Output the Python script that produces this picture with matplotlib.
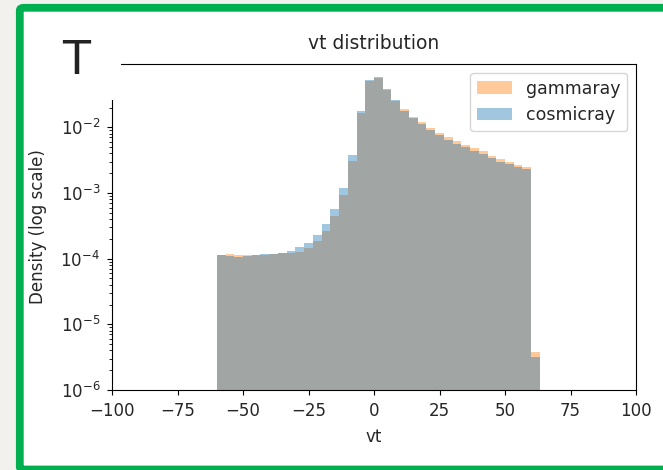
"""vt distribution: gammaray vs cosmicray, log-density histogram (slide crop)."""

import numpy as np
import matplotlib
matplotlib.use("Agg")
import matplotlib.pyplot as plt
from matplotlib.patches import Rectangle, FancyBboxPatch

# bin layout: 37 bins of width 10/3 starting at vt = -60
BIN_LO = -60.0
BIN_W = 10.0 / 3.0
N_BINS = 37

# density per bin
gammaray = [1.13e-4, 1.16e-4, 1.12e-4, 1.15e-4, 1.12e-4, 1.14e-4, 1.17e-4,
            1.20e-4, 1.22e-4, 1.28e-4, 1.46e-4, 1.83e-4, 2.60e-4, 4.40e-4,
            9.30e-4, 3.05e-3, 1.63e-2, 5.05e-2, 5.56e-2, 3.72e-2, 2.54e-2,
            1.87e-2, 1.45e-2, 1.19e-2, 9.8e-3, 8.3e-3, 7.0e-3, 6.1e-3,
            5.3e-3, 4.8e-3, 4.3e-3, 3.7e-3, 3.3e-3, 3.0e-3, 2.7e-3, 2.5e-3,
            3.83e-6]
cosmicray = [1.12e-4, 1.10e-4, 1.07e-4, 1.11e-4, 1.15e-4, 1.16e-4, 1.19e-4,
             1.24e-4, 1.32e-4, 1.48e-4, 1.75e-4, 2.30e-4, 3.35e-4, 5.80e-4,
             1.20e-3, 3.80e-3, 1.78e-2, 5.25e-2, 5.84e-2, 3.78e-2, 2.56e-2,
             1.78e-2, 1.39e-2, 1.11e-2, 9.1e-3, 7.7e-3, 6.5e-3, 5.6e-3,
             5.0e-3, 4.4e-3, 3.9e-3, 3.4e-3, 3.0e-3, 2.8e-3, 2.5e-3, 2.3e-3,
             3.21e-6]

XTICKS = [-100, -75, -50, -25, 0, 25, 50, 75, 100]

W, H = 663, 470
TXT = "#262626"


def fx(px):
    return px / W


def fy(py):
    return 1 - py / H


def main():
    plt.rcParams["text.color"] = TXT
    plt.rcParams["axes.labelcolor"] = TXT
    plt.rcParams["xtick.labelcolor"] = TXT
    plt.rcParams["ytick.labelcolor"] = TXT

    fig = plt.figure(figsize=(W / 100, H / 100), dpi=100, facecolor="#f2f1ee")

    # slide frame: white card with green border (right and bottom edges cut off)
    card = FancyBboxPatch((fx(19.8), fy(469.5)), fx(700), fy(7.8) - fy(469.5),
                          boxstyle="round,pad=0,rounding_size=0.006",
                          transform=fig.transFigure, facecolor="white",
                          edgecolor="#00b050", linewidth=5.6, zorder=-2)
    fig.patches.append(card)

    ax = fig.add_axes([fx(112), fy(390), fx(636 - 112), fy(64) - fy(390)])
    edges = BIN_LO + BIN_W * np.arange(N_BINS + 1)
    ax.bar(edges[:-1], gammaray, width=BIN_W, align="edge", color="C1", alpha=0.42,
           linewidth=0, label="gammaray")
    ax.bar(edges[:-1], cosmicray, width=BIN_W, align="edge", color="C0", alpha=0.42,
           linewidth=0, label="cosmicray")
    ax.set_yscale("log")
    ax.set_xlim(-100, 100)
    ax.set_ylim(1e-6, 0.092)
    ax.set_xticks(XTICKS)
    ax.tick_params(labelsize=12, pad=5)
    ax.set_xlabel("vt", fontsize=12, labelpad=6)
    ax.set_ylabel("Density (log scale)", fontsize=12, labelpad=10)
    ax.set_title("vt distribution", fontsize=13.5, pad=11)
    ax.legend(loc="upper right", fontsize=12.5)

    # slide heading crop covering the axes corner
    fig.patches.append(Rectangle((fx(23.5), fy(100)), fx(121 - 23.5), fy(12) - fy(100),
                                 transform=fig.transFigure, facecolor="white",
                                 edgecolor="none", zorder=5))
    fig.text(fx(76), fy(62), "T", fontsize=33, color="#222222", ha="center", va="center",
             zorder=6)

    fig.savefig("out.png", dpi=100, facecolor=fig.get_facecolor())
    plt.close(fig)


if __name__ == "__main__":
    main()
